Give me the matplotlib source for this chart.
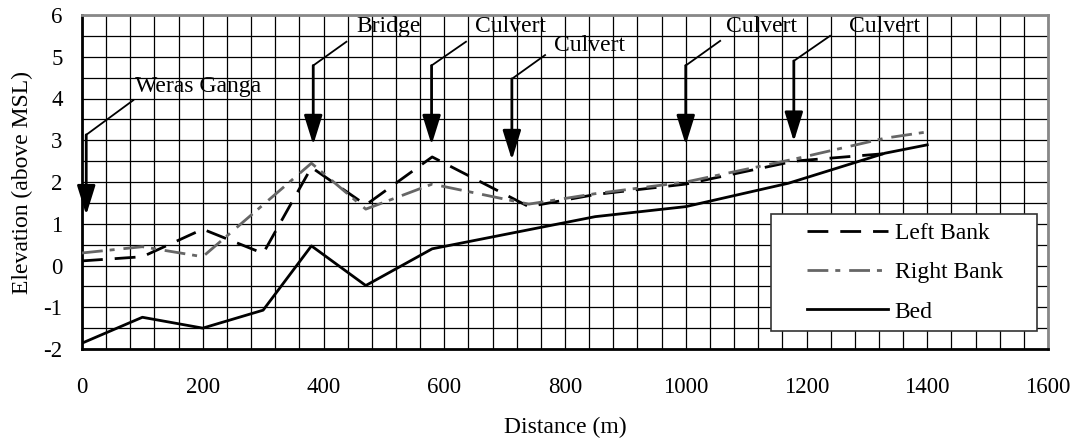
import numpy as np
import matplotlib
matplotlib.use("Agg")
from matplotlib import pyplot as plt
from matplotlib.patches import Rectangle

plt.rcParams["font.family"] = ["Liberation Serif", "DejaVu Serif"]
plt.rcParams["axes.unicode_minus"] = False

# Perfil longitudinal (distancia en m, elevación sobre MSL)
bed_x = [0, 100, 200, 300, 380, 470, 580, 850, 1000, 1170, 1330, 1400]
bed_y = [-1.86, -1.24, -1.50, -1.07, 0.47, -0.48, 0.40, 1.17, 1.41, 1.97, 2.69, 2.89]

left_x = [0, 100, 200, 300, 380, 470, 580, 740, 850, 1000, 1180, 1330]
left_y = [0.11, 0.21, 0.87, 0.29, 2.35, 1.45, 2.60, 1.41, 1.70, 1.95, 2.50, 2.68]

right_x = [0, 100, 200, 380, 470, 580, 740, 850, 1000, 1180, 1330, 1400]
right_y = [0.30, 0.45, 0.21, 2.45, 1.35, 1.95, 1.47, 1.72, 2.00, 2.55, 3.05, 3.20]

# Estructuras marcadas con flechas
struct_labels = ["Weras Ganga", "Bridge", "Culvert", "Culvert", "Culvert", "Culvert"]
struct_x = [7, 383, 579, 712, 1000, 1179]
struct_tip = [1.21, 2.89, 2.89, 2.53, 2.89, 2.97]
struct_elbow = [3.13, 4.79, 4.79, 4.47, 4.79, 4.90]
leader_x = [85, 438, 636, 767, 1057, 1239]
leader_y = [3.96, 5.36, 5.36, 5.04, 5.38, 5.50]
label_x = [88, 455, 651, 781, 1067, 1270]
label_y = [4.28, 5.72, 5.72, 5.28, 5.72, 5.72]

fig = plt.figure(figsize=(10.8, 4.41), dpi=100)
ax = fig.add_axes([82 / 1080, 92 / 441, 966 / 1080, 334 / 441])

ax.plot(left_x, left_y, color="black", lw=2, dashes=(7.5, 4.3), label="Left Bank", zorder=3)
ax.plot(right_x, right_y, color="#666666", lw=2, dashes=(7.5, 2.5, 1.8, 3.2),
        label="Right Bank", zorder=3)
ax.plot(bed_x, bed_y, color="black", lw=2, label="Bed", zorder=3)

# Flechas y textos
for i in range(len(struct_labels)):
    ax.plot([struct_x[i], leader_x[i]], [struct_elbow[i], leader_y[i]],
            color="black", lw=1.3, zorder=4)
    ax.annotate("", xy=(struct_x[i], struct_tip[i]), xytext=(struct_x[i], struct_elbow[i]),
                arrowprops=dict(arrowstyle="-|>,head_length=0.9,head_width=0.28",
                                color="black", lw=2, mutation_scale=20,
                                shrinkA=0, shrinkB=0), zorder=4)
    ax.text(label_x[i], label_y[i], struct_labels[i], ha="left", va="center",
            fontsize=17, zorder=4)

ax.set_xlim(0, 1600)
ax.set_ylim(-2, 6)
ax.set_xticks(np.arange(0, 1601, 200))
ax.set_yticks(np.arange(-2, 7, 1))
ax.set_xticks(np.arange(0, 1601, 40), minor=True)
ax.set_yticks(np.arange(-2, 6.01, 0.5), minor=True)
ax.grid(True, which="both", color="black", lw=0.9, zorder=1)
ax.set_axisbelow(True)
ax.tick_params(which="both", length=0, labelsize=16.5)
ax.tick_params(axis="x", pad=20)
ax.tick_params(axis="y", pad=14)

for side in ["left", "bottom"]:
    ax.spines[side].set_color("black")
    ax.spines[side].set_linewidth(2)
for side in ["top", "right"]:
    ax.spines[side].set_color("#888888")
    ax.spines[side].set_linewidth(2)

ax.set_xlabel("Distance (m)", fontsize=17, labelpad=14)
ax.set_ylabel("Elevation (above MSL)", fontsize=17)
ax.yaxis.set_label_coords(-0.051, 0.5)

# Caja de leyenda dibujada aparte para tener el relleno lateral
box = Rectangle((0.713, 0.054), 0.276, 0.349, transform=ax.transAxes,
                facecolor="white", edgecolor="#333333", lw=1.2, zorder=5)
ax.add_patch(box)
leg = ax.legend(loc="center", bbox_to_anchor=(0.852, 0.229), frameon=False,
                fontsize=17, handlelength=3.4, handletextpad=0.3, labelspacing=0.75,
                borderpad=0)
leg.set_zorder(6)

fig.savefig("out.png", dpi=100)
